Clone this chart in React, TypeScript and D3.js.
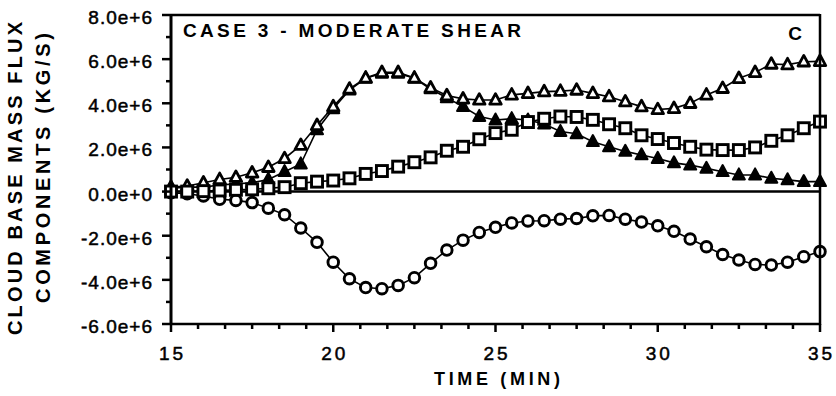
import React from "react";
import * as d3 from "d3";

const times = d3.range(41).map((i) => 15 + i * 0.5);

// values in units of 1e6 kg/s
const circles = [-0.05, -0.1, -0.2, -0.35, -0.4, -0.5, -0.75, -1.05, -1.65, -2.3, -3.2, -3.95, -4.35, -4.4, -4.25, -3.9, -3.25, -2.65, -2.2, -1.85, -1.62, -1.42, -1.33, -1.32, -1.25, -1.22, -1.1, -1.08, -1.25, -1.38, -1.55, -1.8, -2.15, -2.5, -2.85, -3.1, -3.3, -3.33, -3.2, -2.95, -2.72];
const squares = [0.0, 0.0, 0.02, 0.05, 0.08, 0.1, 0.15, 0.2, 0.38, 0.45, 0.5, 0.6, 0.8, 0.93, 1.13, 1.33, 1.55, 1.85, 2.03, 2.37, 2.65, 2.8, 3.15, 3.3, 3.4, 3.38, 3.25, 3.05, 2.87, 2.55, 2.38, 2.2, 2.03, 1.9, 1.88, 1.88, 2.0, 2.3, 2.55, 2.87, 3.17];
const openTri = [0.2, 0.25, 0.4, 0.55, 0.65, 0.85, 1.1, 1.5, 2.1, 3.0, 3.85, 4.65, 5.15, 5.4, 5.4, 5.15, 4.7, 4.35, 4.2, 4.15, 4.15, 4.38, 4.45, 4.53, 4.55, 4.6, 4.45, 4.3, 4.07, 3.85, 3.72, 3.77, 4.0, 4.38, 4.68, 5.13, 5.4, 5.78, 5.75, 5.88, 5.9];
const filledTri = [0.15, 0.2, 0.2, 0.3, 0.35, 0.4, 0.55, 0.9, 1.25, 2.8, 3.75, 4.6, 5.13, 5.36, 5.36, 5.13, 4.65, 4.25, 3.85, 3.4, 3.24, 3.3, 3.24, 3.06, 2.72, 2.62, 2.26, 2.03, 1.82, 1.66, 1.5, 1.3, 1.2, 1.05, 0.9, 0.75, 0.75, 0.6, 0.53, 0.45, 0.45];

const yTickValues = [8e6, 6e6, 4e6, 2e6, 0, -2e6, -4e6, -6e6];
const yTickLabels = ["8.0e+6", "6.0e+6", "4.0e+6", "2.0e+6", "0.0e+0", "-2.0e+6", "-4.0e+6", "-6.0e+6"];
const xTickValues = [15, 20, 25, 30, 35];
const xTickLabels = ["15", "20", "25", "30", "35"];

const title = "CASE 3 - MODERATE SHEAR";
const panelLetter = "C";
const yLabel1 = "CLOUD BASE MASS FLUX";
const yLabel2 = "COMPONENTS (KG/S)";
const xLabel = "TIME  (MIN)";

const FONT = "'Liberation Sans', Arial, Helvetica, sans-serif";

export default function App() {
  const x = d3.scaleLinear().domain([15, 35]).range([171, 820]);
  const y = d3.scaleLinear().domain([-6e6, 8e6]).range([324, 15]);

  const line = d3
    .line<number>()
    .x((_, i) => x(times[i]))
    .y((v) => y(v * 1e6));

  const minorX = d3.range(25).map((i) => 15 + (i * 5) / 6);
  const minorY = d3.range(-6, 9).map((v) => v * 1e6);

  const triPath = (cx: number, cy: number, s: number) => {
    const h = s * 0.92;
    return `M${cx},${cy - h * 0.6}L${cx + s / 2},${cy + h * 0.4}L${cx - s / 2},${cy + h * 0.4}Z`;
  };

  return (
    <svg
      width={836}
      height={396}
      style={{ position: "absolute", left: 0, top: 0, background: "#fff" }}
    >
      <rect x={0} y={0} width={836} height={396} fill="#fff" />
      {/* zero line */}
      <line x1={x(15)} x2={x(35)} y1={y(0)} y2={y(0)} stroke="#000" strokeWidth={2.5} />

      {/* circles */}
      <path d={line(circles) || ""} fill="none" stroke="#000" strokeWidth={1.6} />
      {circles.map((v, i) => (
        <circle key={"c" + i} cx={x(times[i])} cy={y(v * 1e6)} r={5.3} fill="#fff" stroke="#000" strokeWidth={2.9} />
      ))}

      {/* filled triangles */}
      <path d={line(filledTri) || ""} fill="none" stroke="#000" strokeWidth={1.6} />
      {filledTri.map((v, i) => (
        <path key={"f" + i} d={triPath(x(times[i]), y(v * 1e6), 12)} fill="#000" stroke="#000" strokeWidth={2} strokeLinejoin="round" />
      ))}

      {/* open triangles */}
      <path d={line(openTri) || ""} fill="none" stroke="#000" strokeWidth={1.6} />
      {openTri.map((v, i) => (
        <path key={"o" + i} d={triPath(x(times[i]), y(v * 1e6), 11.5)} fill="#fff" stroke="#000" strokeWidth={2.8} strokeLinejoin="round" />
      ))}

      {/* squares */}
      <path d={line(squares) || ""} fill="none" stroke="#000" strokeWidth={1.6} />
      {squares.map((v, i) => (
        <rect key={"s" + i} x={x(times[i]) - 5.5} y={y(v * 1e6) - 5.5} width={11} height={11} fill="#fff" stroke="#000" strokeWidth={2.9} />
      ))}

      {/* frame */}
      <line x1={x(15)} x2={x(35)} y1={y(8e6)} y2={y(8e6)} stroke="#000" strokeWidth={2.5} />
      <line x1={x(15)} x2={x(35)} y1={y(-6e6)} y2={y(-6e6)} stroke="#000" strokeWidth={2.5} />
      <line x1={x(15)} x2={x(15)} y1={y(8e6) - 1} y2={y(-6e6) + 1} stroke="#000" strokeWidth={3} />
      <line x1={x(35)} x2={x(35)} y1={y(8e6) - 1} y2={y(-6e6) + 1} stroke="#000" strokeWidth={2.5} />

      {/* y ticks */}
      {minorY.map((v) => {
        const major = Math.round(v / 1e6) % 2 === 0;
        return (
          <line key={"yt" + v} x1={x(15) - (major ? 9 : 5)} x2={x(15)} y1={y(v)} y2={y(v)} stroke="#000" strokeWidth={2.5} />
        );
      })}
      {/* x ticks */}
      {minorX.map((t, i) => {
        const major = i % 6 === 0;
        return (
          <line key={"xt" + i} x1={x(t)} x2={x(t)} y1={y(-6e6)} y2={y(-6e6) + (major ? 8 : 5)} stroke="#000" strokeWidth={2.5} />
        );
      })}

      {/* y tick labels */}
      {yTickValues.map((v, i) => (
        <text key={"yl" + i} x={153} y={y(v) + 9} textAnchor="end" fontFamily={FONT} fontSize={19} fill="#000" stroke="#000" strokeWidth={0.5} letterSpacing={1}>
          {yTickLabels[i]}
        </text>
      ))}
      {/* x tick labels */}
      {xTickValues.map((v, i) => (
        <text key={"xl" + i} x={x(v) + 1.5} y={360} textAnchor="middle" fontFamily={FONT} fontSize={19} fill="#000" stroke="#000" strokeWidth={0.5} letterSpacing={3}>
          {xTickLabels[i]}
        </text>
      ))}

      <text x={497} y={385} textAnchor="middle" fontFamily={FONT} fontSize={18} fontWeight="bold" fill="#000" textLength={126} lengthAdjust="spacing">
        {xLabel}
      </text>

      <text x={183} y={37} fontFamily={FONT} fontSize={19} fontWeight="bold" fill="#000" textLength={338} lengthAdjust="spacing">
        {title}
      </text>
      <text x={795} y={40} textAnchor="middle" fontFamily={FONT} fontSize={19} fontWeight="bold" fill="#000">
        {panelLetter}
      </text>

      <text transform="translate(22,178.5) rotate(-90)" textAnchor="middle" fontFamily={FONT} fontSize={20} fontWeight="bold" fill="#000" textLength={313} lengthAdjust="spacing">
        {yLabel1}
      </text>
      <text transform="translate(50,168) rotate(-90)" textAnchor="middle" fontFamily={FONT} fontSize={20} fontWeight="bold" fill="#000" textLength={270} lengthAdjust="spacing">
        {yLabel2}
      </text>
    </svg>
  );
}
